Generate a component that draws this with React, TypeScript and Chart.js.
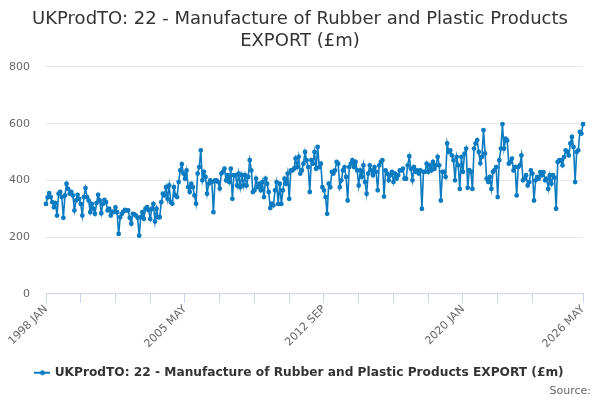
import { useEffect, useRef } from 'react';
import { Chart, type ChartConfiguration, registerables } from 'chart.js';

Chart.register(...registerables);

const START_YEAR = 1998;
const MONTHS = ['JAN', 'FEB', 'MAR', 'APR', 'MAY', 'JUN', 'JUL', 'AUG', 'SEP', 'OCT', 'NOV', 'DEC'];

// monthly export values (£m), one row per year, 1998 JAN .. 2026 MAY
const exportValues = [
  317, 340, 355, 341, 323, 305, 320, 276, 353, 359, 341, 268,
  347, 388, 370, 353, 359, 347, 294, 329, 349, 335, 317, 276,
  341, 373, 341, 329, 288, 317, 300, 282, 320, 349, 329, 284,
  317, 331, 323, 294, 300, 276, 290, 288, 305, 288, 211, 270,
  282, 290, 296, 294, 294, 268, 247, 282, 280, 276, 268, 205,
  270, 288, 265, 300, 306, 295, 264, 300, 317, 255, 300, 270,
  270, 323, 353, 347, 376, 335, 382, 323, 318, 376, 347, 341,
  394, 435, 457, 424, 406, 435, 376, 359, 388, 376, 347, 318,
  424, 447, 506, 400, 430, 412, 353, 388, 400, 394, 288, 400,
  400, 394, 371, 424, 430, 441, 400, 418, 394, 441, 335, 418,
  418, 382, 424, 376, 418, 382, 418, 382, 412, 471, 435, 359,
  365, 406, 376, 388, 365, 394, 341, 406, 388, 359, 303, 318,
  312, 365, 394, 317, 388, 317, 365, 406, 388, 424, 335, 435,
  435, 441, 477, 447, 483, 424, 435, 459, 500, 471, 447, 359,
  471, 459, 500, 441, 518, 447, 459, 376, 365, 341, 282, 388,
  376, 430, 424, 435, 465, 459, 376, 400, 435, 447, 412, 329,
  447, 459, 471, 447, 465, 435, 382, 435, 412, 453, 394, 353,
  424, 453, 435, 418, 447, 430, 365, 453, 465, 471, 343, 435,
  424, 400, 418, 430, 394, 424, 406, 418, 435, 435, 441, 406,
  406, 453, 485, 441, 400, 447, 430, 435, 424, 435, 300, 430,
  430, 459, 430, 453, 435, 465, 441, 453, 483, 453, 329, 430,
  430, 412, 530, 500, 506, 488, 471, 400, 483, 453, 370, 483,
  430, 494, 512, 374, 436, 430, 370, 512, 530, 542, 500, 460,
  483, 577, 495, 406, 394, 412, 370, 430, 436, 447, 341, 471,
  512, 598, 512, 547, 541, 459, 465, 477, 435, 447, 347, 447,
  453, 488, 400, 406, 418, 382, 394, 435, 424, 329, 400, 412,
  406, 429, 418, 429, 400, 406, 370, 418, 388, 418, 410, 300,
  465, 471, 471, 453, 482, 506, 500, 488, 530, 553, 518, 394,
  500, 506, 571, 565, 598,
];

const monthLabels = exportValues.map(
  (_, i) => `${START_YEAR + Math.floor(i / 12)} ${MONTHS[i % 12]}`,
);

const LAST = exportValues.length - 1;
// labelled ticks: 1998 JAN, 2005 MAY, 2012 SEP, 2020 JAN, 2026 MAY
const labelIndexes = [0, 88, 176, 264, LAST];
// small tick marks on the x axis
const tickIndexes = [0, 22, 44, 66, 88, 110, 132, 154, 176, 198, 220, 242, 264, 286, 308, LAST];

const SERIES_NAME = 'UKProdTO: 22 - Manufacture of Rubber and Plastic Products EXPORT (£m)';
const LINE_COLOR = '#0b7bc1';

function makeLegendMarker() {
  const c = document.createElement('canvas');
  c.width = 16;
  c.height = 8;
  const ctx = c.getContext('2d');
  if (ctx) {
    ctx.fillStyle = LINE_COLOR;
    ctx.fillRect(0, 3, 16, 2);
    ctx.beginPath();
    ctx.arc(8, 4, 2.5, 0, Math.PI * 2);
    ctx.fill();
  }
  return c;
}

function ExportChart() {
  const canvasRef = useRef<HTMLCanvasElement | null>(null);
  const chartRef = useRef<Chart<'line'> | null>(null);

  useEffect(() => {
    if (!canvasRef.current) return;
    document.body.style.margin = '0';
    const marker = makeLegendMarker();

    const config: ChartConfiguration<'line'> = {
      type: 'line',
      data: {
        labels: monthLabels,
        datasets: [
          {
            label: SERIES_NAME,
            data: exportValues,
            borderColor: LINE_COLOR,
            backgroundColor: LINE_COLOR,
            borderWidth: 1.6,
            pointRadius: 1.6,
            pointHoverRadius: 3,
            tension: 0,
          },
        ],
      },
      options: {
        responsive: false,
        animation: false,
        layout: { autoPadding: false, padding: { left: 9, right: 9, top: 0, bottom: 0 } },
        scales: {
          x: {
            grid: {
              drawOnChartArea: false,
              drawTicks: true,
              tickLength: 9,
              color: (ctx) => (tickIndexes.includes(ctx.index) ? '#ccd6eb' : 'rgba(0,0,0,0)'),
            },
            border: { display: true, color: '#ccd6eb' },
            ticks: {
              autoSkip: false,
              maxRotation: 45,
              minRotation: 45,
              padding: 0,
              color: '#666',
              font: { family: 'DejaVu Sans', size: 11 },
              callback: (_v, i) => (labelIndexes.includes(i) ? monthLabels[i] : ''),
            },
            afterFit: (scale) => {
              scale.height += 9; // gap between the date labels and the legend
            },
          },
          y: {
            min: 0,
            max: 800,
            ticks: {
              stepSize: 200,
              color: '#666',
              padding: 16,
              font: { family: 'DejaVu Sans', size: 11 },
            },
            grid: { color: '#e6e6e6', drawTicks: false },
            border: { display: false },
            afterFit: (scale) => {
              scale.width = 37;
            },
          },
          // empty right-hand axis, only keeps the plot off the right edge
          yRight: {
            position: 'right',
            display: true,
            grid: { display: false },
            border: { display: false },
            ticks: { display: false },
            afterFit: (scale) => {
              scale.width = 8;
            },
          },
        },
        plugins: {
          title: {
            display: true,
            text: ['UKProdTO: 22 - Manufacture of Rubber and Plastic Products', 'EXPORT (£m)'],
            color: '#333',
            font: { family: 'DejaVu Sans', size: 18, weight: 'normal', lineHeight: 1.22 },
            padding: { top: 8, bottom: 15 },
          },
          subtitle: {
            display: true,
            text: 'Source:',
            position: 'bottom',
            align: 'end',
            color: '#666',
            font: { family: 'DejaVu Sans', size: 11 },
            padding: { top: -4, bottom: 2 },
          },
          legend: {
            position: 'bottom',
            labels: {
              color: '#333',
              font: { family: 'DejaVu Sans', size: 12.2, weight: 'bold' },
              usePointStyle: true,
              padding: 7,
              generateLabels: () => [
                {
                  text: SERIES_NAME,
                  pointStyle: marker,
                  fillStyle: LINE_COLOR,
                  strokeStyle: LINE_COLOR,
                  lineWidth: 0,
                  datasetIndex: 0,
                  fontColor: '#333',
                },
              ],
            },
          },
          tooltip: { enabled: false },
        },
      },
    };

    chartRef.current = new Chart(canvasRef.current, config);

    return () => {
      chartRef.current?.destroy();
      chartRef.current = null;
    };
  }, []);

  return <canvas ref={canvasRef} width={600} height={400} />;
}

export default function App() {
  return (
    <div style={{ width: 600, height: 400 }}>
      <ExportChart />
    </div>
  );
}
